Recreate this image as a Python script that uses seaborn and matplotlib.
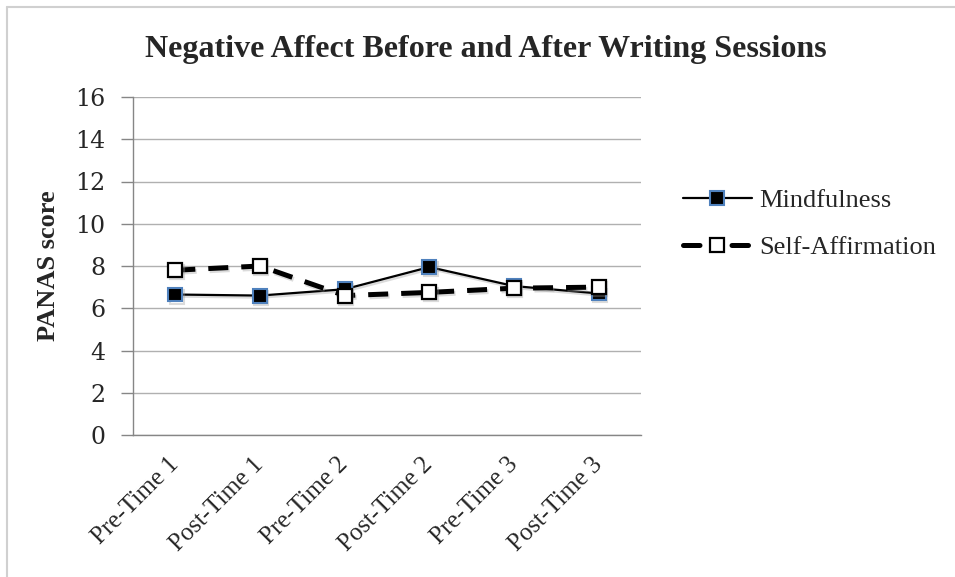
import matplotlib
matplotlib.use("Agg")
import matplotlib.pyplot as plt
import matplotlib.patheffects as pe
from matplotlib.lines import Line2D
import seaborn as sns
import pandas as pd

sessions = ["Pre-Time 1", "Post-Time 1", "Pre-Time 2", "Post-Time 2", "Pre-Time 3", "Post-Time 3"]
mindfulness = [6.65, 6.6, 6.9, 7.95, 7.05, 6.7]
self_affirmation = [7.8, 8.0, 6.6, 6.75, 6.95, 7.0]
y_ticks = [0, 2, 4, 6, 8, 10, 12, 14, 16]

sns.set_theme(style="white")
plt.rcParams["font.family"] = ["Liberation Serif", "DejaVu Serif"]

df = pd.DataFrame({
    "session": pd.Categorical(sessions * 2, categories=sessions, ordered=True),
    "score": mindfulness + self_affirmation,
    "group": ["Mindfulness"] * len(sessions) + ["Self-Affirmation"] * len(sessions),
})

W, H = 955, 577
fig = plt.figure(figsize=(W / 100, H / 100), dpi=100)
ax = fig.add_axes([133 / W, 1 - 435 / H, (641 - 133) / W, (435 - 97) / H])

shadow = [pe.SimpleLineShadow(offset=(1, -1.5), shadow_color="0.6", alpha=0.35), pe.Normal()]

m = df[df["group"] == "Mindfulness"]
sa = df[df["group"] == "Self-Affirmation"]

sns.lineplot(data=m, x="session", y="score", ax=ax, color="black", linewidth=1.6,
             marker="s", markersize=10, markerfacecolor="black",
             markeredgecolor="#4F81BD", markeredgewidth=1.5,
             sort=False, path_effects=shadow, legend=False)
sns.lineplot(data=sa, x="session", y="score", ax=ax, color="black", linewidth=3.6,
             marker="s", markersize=10, markerfacecolor="white",
             markeredgecolor="black", markeredgewidth=1.6, dashes=(4, 2.6),
             sort=False, path_effects=shadow, legend=False)

ax.set_xlim(-0.5, len(sessions) - 0.5)
ax.set_ylim(0, 16)
ax.set_yticks(y_ticks)
ax.set_yticklabels([str(t) for t in y_ticks], fontsize=17, family="DejaVu Serif")
ax.set_xticks(range(len(sessions)))
ax.set_xticklabels(sessions, rotation=45, ha="right", va="center",
                   rotation_mode="anchor", fontsize=18)
ax.tick_params(axis="y", which="both", left=True, length=9, width=1, color="#868686", pad=11)
ax.tick_params(axis="x", which="both", bottom=False, pad=13)

ax.grid(axis="y", color="#b0b0b0", linewidth=1)
ax.set_axisbelow(True)
for side in ["top", "right"]:
    ax.spines[side].set_visible(False)
for side in ["left", "bottom"]:
    ax.spines[side].set_color("#868686")
    ax.spines[side].set_linewidth(1)

ax.set_xlabel("")
ax.set_ylabel("PANAS score", fontsize=19, fontweight="bold")
ax.yaxis.set_label_coords((60 - 133) / (641 - 133), 0.5)

fig.text(486 / W, 1 - 57 / H, "Negative Affect Before and After Writing Sessions",
         ha="center", va="baseline", fontsize=23, fontweight="bold")

handles = [
    Line2D([], [], color="black", linewidth=1.6, marker="s", markersize=10,
           markerfacecolor="black", markeredgecolor="#4F81BD", markeredgewidth=1.5),
    Line2D([], [], color="black", linewidth=3.6, marker="s", markersize=10,
           markerfacecolor="white", markeredgecolor="black", markeredgewidth=1.6,
           dashes=(3.3, 6.4), dash_capstyle="round"),
]
fig.legend(handles, ["Mindfulness", "Self-Affirmation"], loc="center left",
           bbox_to_anchor=(683 / W, 1 - 224 / H), bbox_transform=fig.transFigure,
           frameon=False, fontsize=19, handlelength=2.6, handletextpad=0.3,
           labelspacing=0.9, borderpad=0, borderaxespad=0)

# light frame along the left and top edges
fig.add_artist(Line2D([7 / W, 7 / W], [0, 1 - 7 / H], transform=fig.transFigure,
                      color="#d0d0d0", linewidth=1.5))
fig.add_artist(Line2D([7 / W, 1], [1 - 7 / H, 1 - 7 / H], transform=fig.transFigure,
                      color="#d0d0d0", linewidth=1.5))

fig.savefig("out.png", dpi=100)
